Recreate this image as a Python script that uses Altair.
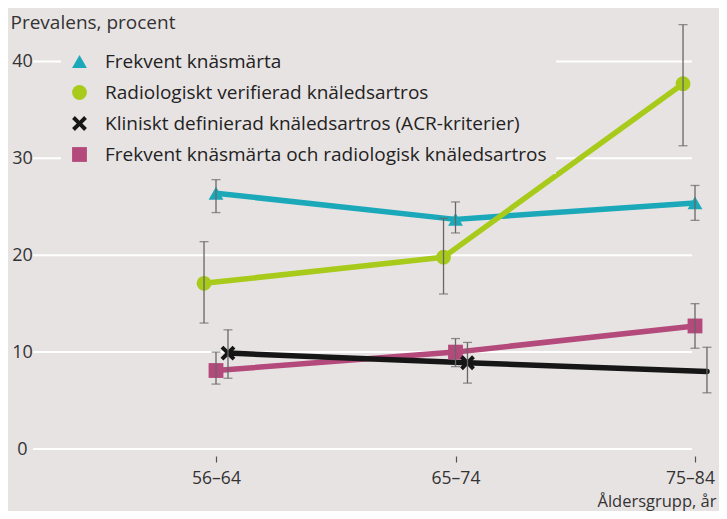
import json
import altair as alt
import pandas as pd

# ---- data ----
age_groups = ["56–64", "65–74", "75–84"]
series = [
    "Frekvent knäsmärta",
    "Radiologiskt verifierad knäledsartros",
    "Kliniskt definierad knäledsartros (ACR-kriterier)",
    "Frekvent knäsmärta och radiologisk knäledsartros",
]
teal_val = [26.4, 23.7, 25.4]
teal_lo = [24.4, 22.3, 23.6]
teal_hi = [27.8, 25.5, 27.2]

green_val = [17.1, 19.8, 37.7]
green_lo = [13.0, 16.0, 31.3]
green_hi = [21.4, 23.8, 43.8]

black_val = [9.9, 8.9, 8.0]
black_lo = [7.3, 6.8, 5.8]
black_hi = [12.3, 11.0, 10.5]

pink_val = [8.1, 10.0, 12.7]
pink_lo = [6.7, 8.5, 10.4]
pink_hi = [10.0, 11.4, 15.0]

y_ticks = [0, 10, 20, 30, 40]

# ---- styling ----
colors = ["#1ba9b9", "#a8cb1b", "#161616", "#b4497b"]
x_path = ("M-1,-0.62L-0.62,-1L0,-0.38L0.62,-1L1,-0.62L0.38,0L1,0.62"
          "L0.62,1L0,0.38L-0.62,1L-1,0.62L-0.38,0Z")
shapes = ["triangle-up", "circle", x_path, "square"]
dodge = {series[0]: 0.0, series[1]: -0.05, series[2]: 0.05, series[3]: 0.0}
draw_order = [series[3], series[2], series[0], series[1]]
bg = "#e8e3e3"
FONT = "Open Sans"
GRID_W = 659

vals = {series[0]: (teal_val, teal_lo, teal_hi),
        series[1]: (green_val, green_lo, green_hi),
        series[2]: (black_val, black_lo, black_hi),
        series[3]: (pink_val, pink_lo, pink_hi)}

rows = []
for s in draw_order:
    v, lo, hi = vals[s]
    for i, g in enumerate(age_groups):
        rows.append({"series": s, "group": g, "idx": i + 1,
                     "xpos": i + 1 + dodge[s],
                     "value": v[i], "lo": lo[i], "hi": hi[i],
                     "marker": not (s == series[2] and i == 2)})
df = pd.DataFrame(rows)
grid_df = pd.DataFrame({"tick": y_ticks})

label_expr = json.dumps(age_groups) + "[datum.value - 1]"

x_scale = alt.Scale(domain=[0.2359, 3.0835], nice=False, zero=False)
y_scale = alt.Scale(domain=[0, 45], nice=False)

x_enc = alt.X("xpos:Q", scale=x_scale,
              axis=alt.Axis(values=[1, 2, 3], labelExpr=label_expr,
                            grid=False, domain=False, offset=7,
                            tickSize=6, tickColor="#555", tickWidth=1.2,
                            labelPadding=7, labelFontSize=17.5,
                            labelOffset={"condition": {"test": "datum.value == 3",
                                                       "value": -5},
                                         "value": 0},
                            labelColor="#333", labelFont=FONT,
                            labelBaseline="top", labelBound=False,
                            title="Åldersgrupp, år", titleFont=FONT,
                            titleFontSize=16.5, titleFontWeight="normal",
                            titleColor="#333", titleAlign="right",
                            titleAnchor="start",
                            titleX=683, titleY=45,
                            titleBaseline="middle"))
y_enc = alt.Y("value:Q", scale=y_scale,
              axis=alt.Axis(values=y_ticks, grid=False, domain=False,
                            ticks=False,
                            labelPadding=11, labelAlign="center",
                            labelBaseline="middle", labelFontSize=18,
                            labelColor="#333", labelFont=FONT,
                            title="Prevalens, procent", titleAngle=0,
                            titleAlign="left", titleBaseline="middle",
                            titleX=-23, titleY=9, titleFont=FONT,
                            titleFontSize=19, titleFontWeight="normal",
                            titleColor="#333"))

color_scale = alt.Scale(domain=series, range=colors)
shape_scale = alt.Scale(domain=series, range=shapes)

grid = alt.Chart(grid_df).mark_rule(color="white", strokeWidth=2).encode(
    y=alt.Y("tick:Q", scale=y_scale),
    x=alt.value(0), x2=alt.value(GRID_W))

base = alt.Chart(df)

lines = base.mark_line(strokeWidth=5.5, strokeCap="round",
                       strokeJoin="round").encode(
    x=x_enc, y=y_enc,
    color=alt.Color("series:N", scale=color_scale, legend=None),
    detail="series:N",
)

legend = alt.Legend(title=None, orient="none", legendX=28, legendY=30,
                    fillColor=bg, padding=9, labelFont=FONT,
                    labelFontSize=19, labelColor="#222", labelOffset=16,
                    symbolSize=220, rowPadding=11, labelLimit=600)

points = base.transform_filter("datum.marker").mark_point(
    filled=True, opacity=1, size=220).encode(
    x="xpos:Q", y="value:Q",
    color=alt.Color("series:N", scale=color_scale, legend=legend),
    shape=alt.Shape("series:N", scale=shape_scale, legend=legend),
)

err = base.mark_rule(color="#666", strokeWidth=1.3).encode(
    x="xpos:Q", y="lo:Q", y2="hi:Q")
cap_lo = base.mark_tick(color="#666", thickness=1.3, size=9,
                        orient="horizontal").encode(x="xpos:Q", y="lo:Q")
cap_hi = base.mark_tick(color="#666", thickness=1.3, size=9,
                        orient="horizontal").encode(x="xpos:Q", y="hi:Q")

chart = alt.layer(grid, lines, points, err, cap_lo, cap_hi).resolve_scale(
    color="independent", shape="independent"
).properties(
    width=682, height=436,
    autosize=alt.AutoSizeParams(type="none"),
    padding={"left": 25, "top": 5, "right": 4, "bottom": 62},
    background=bg,
).configure_view(stroke=None, fill=bg)

chart.save("out.html", embed_options={"renderer": "svg", "actions": False})
